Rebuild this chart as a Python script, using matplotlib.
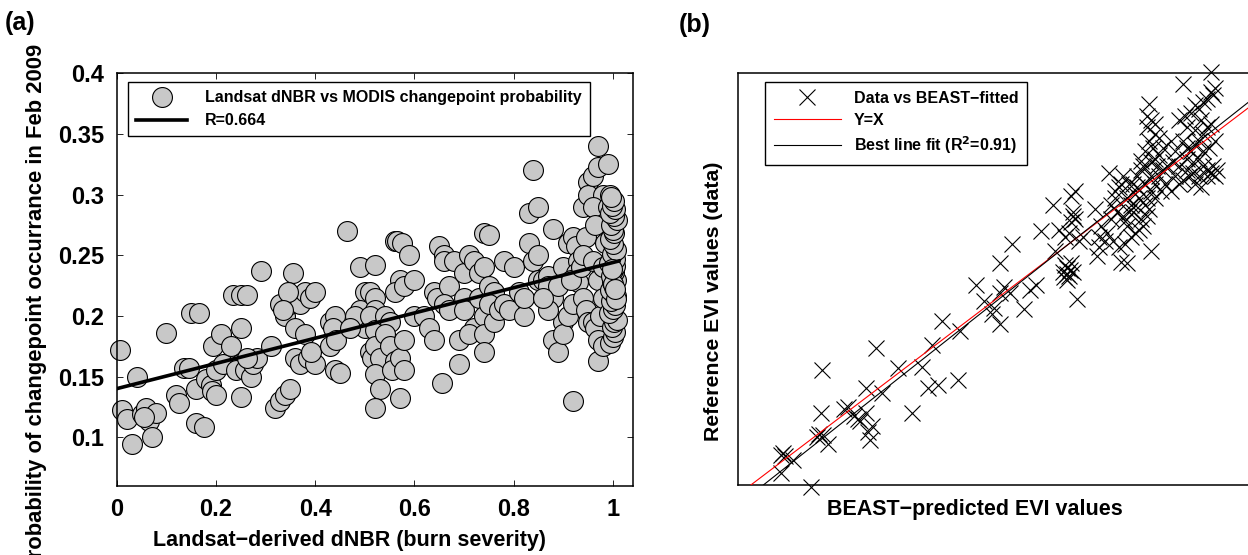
import matplotlib
matplotlib.use("Agg")
import matplotlib.pyplot as plt
import numpy as np
from matplotlib import font_manager

# ---------------- Panel (a) data ----------------
dnbr = [0.006, 0.040, 0.010, 0.020, 0.030, 0.050, 0.060, 0.065, 0.072, 0.080, 0.055, 0.100,
        0.120, 0.125, 0.135, 0.150, 0.165, 0.145, 0.160, 0.160, 0.175, 0.180, 0.190, 0.192, 0.200, 0.195, 0.200,
        0.210, 0.215, 0.230, 0.235, 0.250, 0.262, 0.250, 0.248, 0.240, 0.250, 0.258, 0.270, 0.275, 0.290, 0.282, 0.262,
        0.310, 0.320, 0.330, 0.340, 0.350, 0.330, 0.340, 0.350, 0.355, 0.365, 0.370, 0.380, 0.390, 0.400, 0.360, 0.380,
        0.360, 0.370, 0.385, 0.400, 0.392, 0.345, 0.335,
        0.430, 0.440, 0.435, 0.430, 0.442, 0.440, 0.450, 0.465, 0.490, 0.500, 0.490, 0.500, 0.480, 0.470,
        0.520, 0.510, 0.520, 0.520, 0.510, 0.520, 0.510, 0.515, 0.520, 0.530, 0.520, 0.530, 0.520, 0.540, 0.550, 0.540,
        0.550, 0.560, 0.555, 0.570, 0.580, 0.570, 0.580, 0.560, 0.565, 0.575, 0.570, 0.560, 0.580, 0.590, 0.600, 0.600,
        0.620, 0.630, 0.640, 0.640, 0.645, 0.650, 0.660, 0.660, 0.670, 0.660, 0.670, 0.655, 0.690, 0.690, 0.680, 0.700,
        0.700, 0.700,
        0.710, 0.720, 0.720, 0.710, 0.730, 0.730, 0.740, 0.740, 0.750, 0.740, 0.740, 0.740, 0.750, 0.760, 0.760, 0.750,
        0.770, 0.780, 0.780, 0.790, 0.800,
        0.810, 0.820, 0.820, 0.830, 0.840, 0.850, 0.830, 0.840, 0.850, 0.850, 0.860, 0.870, 0.880, 0.870, 0.880, 0.880,
        0.890, 0.900, 0.900, 0.890, 0.900, 0.870, 0.860,
        0.910, 0.920, 0.925, 0.930, 0.920, 0.925, 0.930, 0.915, 0.935, 0.920, 0.910, 0.920, 0.940, 0.945, 0.940, 0.945,
        0.950, 0.950, 0.950, 0.940,
        0.960, 0.970, 0.970, 0.980, 0.960, 0.965, 0.960, 0.970, 0.960, 0.965, 0.970, 0.970, 0.980, 0.975, 0.980, 0.980,
        0.985, 0.990, 0.995, 0.990,
        0.995, 1.000, 1.005, 0.998, 1.002, 1.008, 0.993, 1.000, 1.004, 0.997, 1.006, 1.001, 0.994, 1.003, 0.999, 1.007,
        0.996, 1.002, 1.000, 1.005, 0.992, 1.004, 0.998, 1.006, 1.001, 0.995, 1.003, 1.000, 0.997, 1.008, 1.002, 0.994,
        1.005, 0.999, 1.003, 0.996, 1.001, 1.006, 0.998, 1.004]
prob = [0.172, 0.150, 0.122, 0.115, 0.094, 0.119, 0.124, 0.113, 0.100, 0.120, 0.117, 0.186,
        0.135, 0.128, 0.157, 0.202, 0.202, 0.157, 0.140, 0.112, 0.108, 0.148, 0.143, 0.138, 0.135, 0.175, 0.155,
        0.185, 0.160, 0.175, 0.217, 0.217, 0.217, 0.190, 0.160, 0.155, 0.133, 0.155, 0.150, 0.160, 0.237, 0.165, 0.165,
        0.175, 0.124, 0.130, 0.135, 0.140, 0.210, 0.200, 0.210, 0.235, 0.215, 0.210, 0.220, 0.215, 0.220, 0.190, 0.185,
        0.165, 0.160, 0.165, 0.160, 0.170, 0.220, 0.205,
        0.195, 0.200, 0.190, 0.175, 0.180, 0.155, 0.153, 0.270, 0.240, 0.220, 0.205, 0.190, 0.200, 0.190,
        0.242, 0.220, 0.215, 0.205, 0.200, 0.188, 0.170, 0.165, 0.175, 0.165, 0.152, 0.140, 0.124, 0.200, 0.195, 0.185,
        0.175, 0.163, 0.155, 0.165, 0.180, 0.132, 0.155, 0.262, 0.262, 0.260, 0.230, 0.220, 0.225, 0.250, 0.230, 0.200,
        0.200, 0.190, 0.180, 0.220, 0.215, 0.258, 0.250, 0.245, 0.225, 0.210, 0.205, 0.145, 0.180, 0.160, 0.245, 0.235,
        0.215, 0.205,
        0.250, 0.245, 0.190, 0.185, 0.215, 0.235, 0.240, 0.268, 0.267, 0.200, 0.185, 0.170, 0.225, 0.220, 0.195, 0.210,
        0.205, 0.245, 0.210, 0.205, 0.240,
        0.220, 0.200, 0.215, 0.285, 0.320, 0.290, 0.260, 0.245, 0.250, 0.230, 0.230, 0.233, 0.272, 0.225, 0.215, 0.180,
        0.170, 0.195, 0.185, 0.225, 0.240, 0.205, 0.215,
        0.260, 0.265, 0.258, 0.245, 0.230, 0.235, 0.228, 0.230, 0.240, 0.130, 0.200, 0.210, 0.290, 0.265, 0.215, 0.205,
        0.195, 0.310, 0.300, 0.250,
        0.315, 0.340, 0.323, 0.300, 0.290, 0.275, 0.245, 0.230, 0.195, 0.190, 0.180, 0.163, 0.175, 0.200, 0.215, 0.240,
        0.260, 0.325, 0.300, 0.290,
        0.178, 0.183, 0.187, 0.191, 0.195, 0.197, 0.202, 0.206, 0.209, 0.212, 0.216, 0.219, 0.221, 0.224, 0.228, 0.230,
        0.233, 0.236, 0.238, 0.241, 0.244, 0.247, 0.251, 0.254, 0.259, 0.263, 0.268, 0.271, 0.275, 0.279, 0.282, 0.285,
        0.288, 0.291, 0.295, 0.298, 0.226, 0.214, 0.239, 0.222]
fit_a_x = [0.0, 1.012]
fit_a_intercept = 0.140
fit_a_slope = 0.104

# ---------------- Panel (b) data ----------------
beast_pred = [0.160, 0.130, 0.134, 0.132, 0.142, 0.130, 0.171, 0.170, 0.168, 0.166, 0.172, 0.178, 0.194, 0.198,
              0.204, 0.208, 0.210, 0.216, 0.216, 0.220, 0.222, 0.218, 0.226, 0.232, 0.248, 0.262, 0.272, 0.278,
              0.288, 0.282, 0.292, 0.308, 0.310, 0.326, 0.334, 0.344, 0.350, 0.354, 0.342, 0.350, 0.350, 0.362,
              0.360, 0.374, 0.380, 0.386, 0.392, 0.404, 0.406, 0.410, 0.416, 0.420, 0.416, 0.418, 0.420, 0.414,
              0.422, 0.424, 0.418, 0.422, 0.426, 0.424, 0.426, 0.422, 0.428, 0.430, 0.434, 0.446, 0.448, 0.450,
              0.456, 0.452, 0.460, 0.462, 0.466, 0.470, 0.472, 0.468, 0.474, 0.476, 0.478, 0.480, 0.482, 0.486,
              0.490, 0.484, 0.488, 0.492, 0.494, 0.472, 0.478, 0.464, 0.470, 0.476, 0.482, 0.486, 0.490, 0.494,
              0.498, 0.500, 0.498, 0.502, 0.506, 0.502, 0.502, 0.500, 0.502, 0.498, 0.506, 0.500, 0.504, 0.510,
              0.502, 0.508, 0.514, 0.518, 0.510, 0.516, 0.522, 0.526, 0.524, 0.534, 0.530, 0.536, 0.542, 0.546,
              0.550, 0.554, 0.558, 0.562, 0.566, 0.564, 0.562, 0.534, 0.538, 0.542, 0.546, 0.550, 0.554, 0.558,
              0.562, 0.538, 0.544, 0.550, 0.554, 0.558, 0.562, 0.566, 0.546, 0.552, 0.530, 0.534, 0.526, 0.522,
              0.478, 0.484, 0.492, 0.496, 0.488, 0.480, 0.474, 0.496, 0.506, 0.512, 0.506, 0.514, 0.510, 0.498,
              0.506, 0.530, 0.538, 0.544, 0.550, 0.554, 0.560, 0.566, 0.564, 0.558, 0.568, 0.540, 0.546, 0.552,
              0.538, 0.418, 0.421, 0.415, 0.424, 0.462, 0.458, 0.450, 0.466, 0.486, 0.492, 0.496]
reference_evi = [0.098, 0.140, 0.138, 0.142, 0.133, 0.116, 0.253, 0.196, 0.168, 0.163, 0.166, 0.154, 0.201, 0.203,
                 0.192, 0.187, 0.185, 0.229, 0.196, 0.159, 0.178, 0.170, 0.281, 0.222, 0.255, 0.196, 0.257, 0.229,
                 0.232, 0.286, 0.318, 0.239, 0.304, 0.365, 0.344, 0.335, 0.354, 0.363, 0.326, 0.314, 0.394, 0.419,
                 0.354, 0.333, 0.358, 0.365, 0.436, 0.471, 0.410, 0.438, 0.429, 0.434, 0.391, 0.387, 0.377, 0.382,
                 0.394, 0.382, 0.372, 0.483, 0.490, 0.457, 0.452, 0.448, 0.347, 0.424, 0.429, 0.466, 0.403, 0.429,
                 0.424, 0.443, 0.513, 0.471, 0.481, 0.495, 0.499, 0.462, 0.457, 0.450, 0.443, 0.462, 0.471, 0.485,
                 0.481, 0.499, 0.509, 0.518, 0.523, 0.396, 0.394, 0.424, 0.415, 0.419, 0.429, 0.434, 0.438, 0.443,
                 0.457, 0.466, 0.481, 0.490, 0.499, 0.509, 0.410, 0.605, 0.584, 0.575, 0.565, 0.556, 0.546, 0.537,
                 0.528, 0.523, 0.518, 0.523, 0.509, 0.499, 0.490, 0.509, 0.528, 0.631, 0.584, 0.589, 0.593, 0.603,
                 0.598, 0.607, 0.612, 0.621, 0.626, 0.617, 0.647, 0.556, 0.546, 0.542, 0.551, 0.556, 0.565, 0.575,
                 0.579, 0.518, 0.513, 0.509, 0.523, 0.518, 0.513, 0.509, 0.499, 0.495, 0.499, 0.504, 0.542, 0.556,
                 0.481, 0.462, 0.452, 0.471, 0.495, 0.499, 0.509, 0.499, 0.481, 0.490, 0.532, 0.546, 0.560, 0.589,
                 0.579, 0.523, 0.532, 0.528, 0.532, 0.542, 0.546, 0.556, 0.523, 0.509, 0.518, 0.509, 0.570, 0.584,
                 0.575, 0.380, 0.385, 0.375, 0.462, 0.452, 0.434, 0.415, 0.490, 0.471, 0.530, 0.542]
identity_x = [0.05, 0.70]
fit_b_x = [0.05, 0.70]
fit_b_slope = 1.041
fit_b_intercept = -0.0172

# ---------------- fonts ----------------
names = {f.name for f in font_manager.fontManager.ttflist}
FAM = "Liberation Sans Narrow" if "Liberation Sans Narrow" in names else "Liberation Sans"
plt.rcParams["font.family"] = [FAM, "DejaVu Sans"]
plt.rcParams["font.weight"] = "bold"

fig = plt.figure(figsize=(12.48, 5.55), dpi=100)

# ---------------- Panel (a) ----------------
axa = fig.add_axes([116.7 / 1248, 1 - 485.7 / 555, 516.0 / 1248, 412.4 / 555])
axa.scatter(dnbr, prob, s=205, facecolor="#c8c8c8", edgecolor="black", linewidths=0.8,
            label="Landsat dNBR vs MODIS changepoint probability", zorder=2, clip_on=False)
fx = np.array(fit_a_x)
axa.plot(fx, fit_a_intercept + fit_a_slope * fx, color="black", lw=2.6, label="R=0.664", zorder=3)
axa.set_xlim(0, 1.04)
axa.set_ylim(0.06, 0.4)
axa.set_xticks([0, 0.2, 0.4, 0.6, 0.8, 1.0])
axa.set_xticklabels(["0", "0.2", "0.4", "0.6", "0.8", "1"])
axa.set_yticks([0.1, 0.15, 0.2, 0.25, 0.3, 0.35, 0.4])
axa.set_yticklabels(["0.1", "0.15", "0.2", "0.25", "0.3", "0.35", "0.4"])
axa.tick_params(direction="in", top=True, right=True, length=4, width=0.6, labelsize=17, pad=9)
for sp in axa.spines.values():
    sp.set_linewidth(1.1)
axa.set_xlabel("Landsat\u2212derived dNBR (burn severity)", fontsize=15.5, fontweight="bold")
axa.xaxis.set_label_coords(0.452, -0.107)
axa.set_ylabel("Probability of changepoint occurrance in Feb 2009", fontsize=15.8, fontweight="bold")
axa.yaxis.set_label_coords(-0.135, 0.43)
leg_a = axa.legend(loc="upper left", bbox_to_anchor=(0.0225, 0.98), fontsize=11.5, frameon=True, fancybox=False,
                   edgecolor="black", framealpha=1, handlelength=3.2, handletextpad=1.1, borderpad=0.5,
                   labelspacing=0.55, borderaxespad=0)
leg_a.get_frame().set_linewidth(1.0)
leg_a.set_zorder(10)

# ---------------- Panel (b) ----------------
axb = fig.add_axes([737.7 / 1248, 1 - 485.0 / 555, 514.3 / 1248, 412.3 / 555])
axb.plot(beast_pred, reference_evi, linestyle="none", marker="x", markersize=11, markeredgewidth=0.8,
         color="black", label="Data vs BEAST\u2212fitted", clip_on=False, zorder=2)
ix = np.array(identity_x)
axb.plot(ix, ix, color="red", lw=0.8, label="Y=X", zorder=3)
bx = np.array(fit_b_x)
axb.plot(bx, fit_b_intercept + fit_b_slope * bx, color="black", lw=0.8,
         label="Best line fit (R$^{2}$=0.91)", zorder=3)
axb.set_xlim(0.0868, 0.6035)
axb.set_ylim(0.1, 0.6464)
axb.set_xticks([])
axb.set_yticks([])
for sp in axb.spines.values():
    sp.set_linewidth(1.1)
axb.set_xlabel("BEAST\u2212predicted EVI values", fontsize=15.5, fontweight="bold")
axb.xaxis.set_label_coords(0.462, -0.033)
axb.set_ylabel("Reference EVI values (data)", fontsize=15.3, fontweight="bold")
axb.yaxis.set_label_coords(-0.029, 0.446)
leg_b = axb.legend(loc="upper left", bbox_to_anchor=(0.0533, 0.977), fontsize=11.5, frameon=True, fancybox=False,
                   edgecolor="black", framealpha=1, handlelength=4.2, handletextpad=0.8, borderpad=0.55,
                   labelspacing=0.42, borderaxespad=0)
leg_b.get_frame().set_linewidth(1.0)
leg_b.set_zorder(10)

fig.text(5 / 1248, 1 - 23 / 555, "(a)", fontsize=18, fontweight="bold", va="center", ha="left")
fig.text(679 / 1248, 1 - 25 / 555, "(b)", fontsize=18, fontweight="bold", va="center", ha="left")

fig.savefig("out.png", dpi=100)
